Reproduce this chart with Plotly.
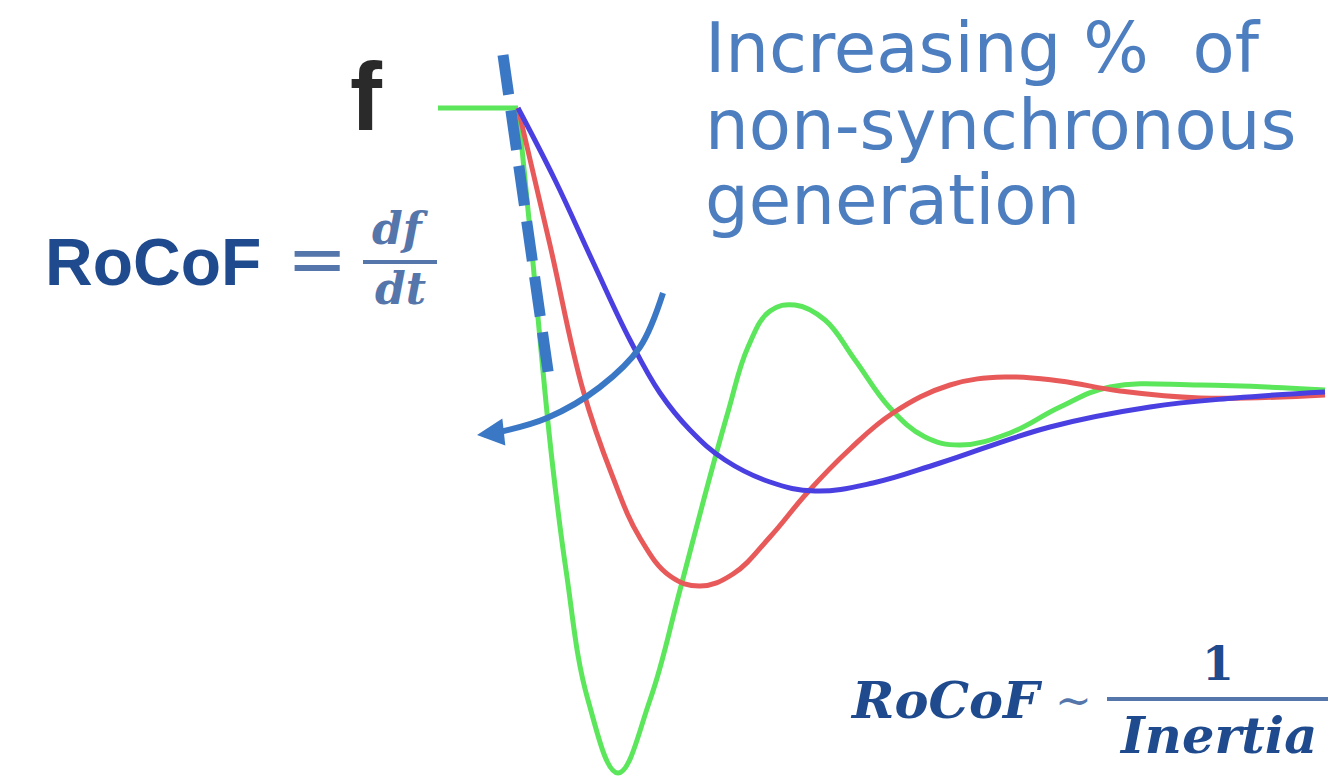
import plotly.graph_objects as go

# Frequency response after a loss of generation, in canvas units (x right, y down)
pre_fault_x = [438, 518]
pre_fault_y = [108, 108]

green_x = [518, 530, 541, 552, 566, 588, 618, 650, 680, 705, 728, 748, 770, 795, 825, 855, 890, 925, 960, 1010, 1060, 1110, 1200, 1325]
green_y = [108, 230, 350, 460, 570, 700, 773, 700, 590, 495, 412, 347, 311, 305, 320, 360, 408, 437, 445, 433, 407, 387, 385, 390]

red_x = [518, 550, 583, 612, 640, 670, 700, 733, 770, 807, 850, 893, 950, 1005, 1060, 1120, 1200, 1325]
red_y = [108, 245, 390, 475, 538, 576, 586, 574, 537, 493, 449, 413, 385, 377, 381, 391, 398, 395]

blue_x = [518, 555, 593, 630, 660, 690, 725, 770, 815, 873, 940, 1050, 1150, 1235, 1325]
blue_y = [108, 180, 262, 340, 393, 430, 460, 482, 491, 483, 463, 427, 407, 398, 392]

# Initial-slope tangent (RoCoF)
tangent_x = [503, 550]
tangent_y = [55, 385]

# Curved arrow: direction of increasing non-synchronous share
arrow_x = [663, 640, 600, 547, 495]
arrow_y = [293, 347, 387, 418, 433]
arrow_tip = (477, 435)

GREEN = "#5be65b"
RED = "#e85a5a"
BLUE = "#4a3fe0"
DASH_BLUE = "#3a78c6"

fig = go.Figure()

fig.add_trace(go.Scatter(x=pre_fault_x, y=pre_fault_y, mode="lines",
                         line=dict(color=GREEN, width=5), hoverinfo="skip"))
for xs, ys, col in [(green_x, green_y, GREEN), (red_x, red_y, RED), (blue_x, blue_y, BLUE)]:
    fig.add_trace(go.Scatter(x=xs, y=ys, mode="lines",
                             line=dict(color=col, width=5, shape="spline", smoothing=1.15),
                             hoverinfo="skip"))
fig.add_trace(go.Scatter(x=tangent_x, y=tangent_y, mode="lines",
                         line=dict(color=DASH_BLUE, width=11, dash="40px,16px"),
                         hoverinfo="skip"))
fig.add_trace(go.Scatter(x=arrow_x, y=arrow_y, mode="lines",
                         line=dict(color=DASH_BLUE, width=6, shape="spline", smoothing=1.0),
                         hoverinfo="skip"))

fig.add_annotation(x=arrow_tip[0], y=arrow_tip[1], ax=arrow_x[-1], ay=arrow_y[-1],
                   axref="x", ayref="y", xref="x", yref="y", text="",
                   showarrow=True, arrowhead=2, arrowsize=0.9, arrowwidth=6,
                   arrowcolor=DASH_BLUE, standoff=0)

NAVY = "#1f4b8e"
LIGHT = "#4d7ec0"
FRAC = "#5576ab"

def label(text, x, y, size, color, family, xanchor="left", yanchor="middle"):
    fig.add_annotation(x=x, y=y, xref="x", yref="y", text=text, showarrow=False,
                       xanchor=xanchor, yanchor=yanchor,
                       font=dict(size=size, color=color, family=family))

# Axis label
label("<b>f</b>", 366, 96, 96, "#2a2a2a", "Liberation Sans", xanchor="center")

# RoCoF definition
label("<b>RoCoF</b>", 43, 262, 66, NAVY, "Liberation Sans")
label("=", 317, 258, 72, FRAC, "DejaVu Sans", xanchor="center")
label("<b><i>df</i></b>", 400, 228, 44, FRAC, "DejaVu Serif", xanchor="center")
label("<b><i>dt</i></b>", 400, 288, 44, FRAC, "DejaVu Serif", xanchor="center")
fig.add_shape(type="line", x0=363, x1=437, y0=262, y1=262, xref="x", yref="y",
              line=dict(color=FRAC, width=4))

# Trend description
label("Increasing %&nbsp; of", 703, 48, 69, LIGHT, "DejaVu Sans")
label("non-synchronous", 703, 125, 69, LIGHT, "DejaVu Sans")
label("generation", 703, 200, 69, LIGHT, "DejaVu Sans")

# RoCoF vs inertia
label("<b><i>RoCoF</i></b>", 848, 700, 51, NAVY, "DejaVu Serif")
label("~", 1073, 700, 44, FRAC, "DejaVu Serif", xanchor="center")
label("<b>1</b>", 1218, 664, 46, NAVY, "DejaVu Serif", xanchor="center")
label("<b><i>Inertia</i></b>", 1218, 735, 51, NAVY, "DejaVu Serif", xanchor="center")
fig.add_shape(type="line", x0=1107, x1=1328, y0=699, y1=699, xref="x", yref="y",
              line=dict(color=FRAC, width=4))

fig.update_layout(
    width=1332, height=779,
    margin=dict(l=0, r=0, t=0, b=0),
    paper_bgcolor="white", plot_bgcolor="white",
    showlegend=False,
    xaxis=dict(range=[0, 1332], visible=False, fixedrange=True),
    yaxis=dict(range=[779, 0], visible=False, fixedrange=True),
)

fig.write_html("out.html", config=dict(displayModeBar=False))
